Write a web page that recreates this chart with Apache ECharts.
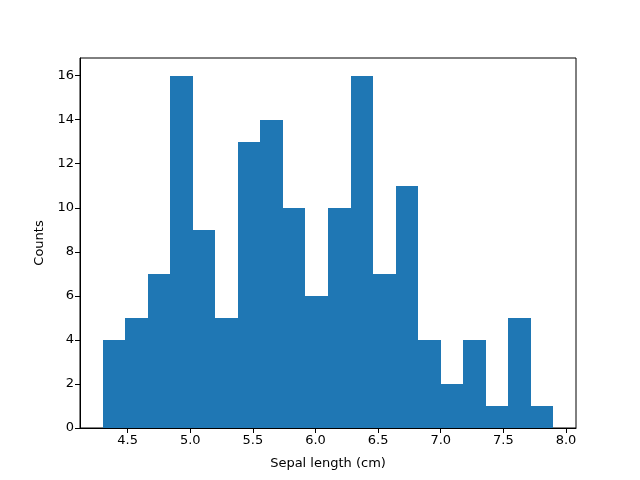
<!DOCTYPE html>
<html>
<head>
<meta charset="utf-8">
<script src="https://cdn.jsdelivr.net/npm/echarts@6/dist/echarts.min.js"></script>
<style>
  html, body { margin: 0; padding: 0; background: #fff; }
  #chart { width: 640px; height: 480px; }
</style>
</head>
<body>
<div id="chart"></div>
<script>
// histogram bins (left edges / right edges) and counts
var binStarts = [4.30, 4.48, 4.66, 4.84, 5.02, 5.20, 5.38, 5.56, 5.74, 5.92,
                 6.10, 6.28, 6.46, 6.64, 6.82, 7.00, 7.18, 7.36, 7.54, 7.72];
var binEnds   = [4.48, 4.66, 4.84, 5.02, 5.20, 5.38, 5.56, 5.74, 5.92, 6.10,
                 6.28, 6.46, 6.64, 6.82, 7.00, 7.18, 7.36, 7.54, 7.72, 7.90];
var counts    = [4, 5, 7, 16, 9, 5, 13, 14, 10, 6,
                 10, 16, 7, 11, 4, 2, 4, 1, 5, 1];
var xTicks = [4.5, 5.0, 5.5, 6.0, 6.5, 7.0, 7.5, 8.0];
var yTicks = [0, 2, 4, 6, 8, 10, 12, 14, 16];

var chart = echarts.init(document.getElementById('chart'));

var data = [];
for (var i = 0; i < counts.length; i++) {
    data.push([binStarts[i], binEnds[i], counts[i]]);
}

var font = 'DejaVu Sans';

option = {
    animation: false,
    grid: {
        left: 80, right: 64, top: 58, bottom: 52,
        show: true, borderColor: '#000', borderWidth: 1
    },
    xAxis: {
        type: 'value',
        min: 4.12, max: 8.08,
        name: 'Sepal length (cm)',
        nameLocation: 'middle',
        nameGap: 29,
        nameTextStyle: { color: '#000', fontSize: 13, fontFamily: font },
        axisLine: { show: true, onZero: false, lineStyle: { color: '#000', width: 1 } },
        axisTick: { show: true, length: 5, customValues: xTicks, lineStyle: { color: '#000' } },
        axisLabel: {
            color: '#000', fontSize: 13, fontFamily: font, margin: 6,
            customValues: xTicks,
            formatter: function (v) { return v.toFixed(1); }
        },
        splitLine: { show: false }
    },
    yAxis: {
        type: 'value',
        min: 0, max: 16.8,
        name: 'Counts',
        nameLocation: 'middle',
        nameGap: 34,
        nameTextStyle: { color: '#000', fontSize: 13, fontFamily: font },
        axisLine: { show: true, lineStyle: { color: '#000', width: 1 } },
        axisTick: { show: true, length: 5, customValues: yTicks, lineStyle: { color: '#000' } },
        axisLabel: {
            color: '#000', fontSize: 13, fontFamily: font, margin: 6,
            customValues: yTicks
        },
        splitLine: { show: false }
    },
    series: [{
        type: 'custom',
        data: data,
        encode: { x: [0, 1], y: 2 },
        z: 1,
        renderItem: function (params, api) {
            var p0 = api.coord([api.value(0), api.value(2)]);
            var p1 = api.coord([api.value(1), 0]);
            // snap to whole pixels so neighbouring bars meet without seams
            var x0 = Math.round(p0[0]), x1 = Math.round(p1[0]);
            var y0 = Math.round(p0[1]), y1 = Math.round(p1[1]);
            return {
                type: 'rect',
                shape: { x: x0, y: y0, width: x1 - x0, height: y1 - y0 },
                style: { fill: '#1f77b4' }
            };
        }
    }]
};

chart.setOption(option);
</script>
</body>
</html>
